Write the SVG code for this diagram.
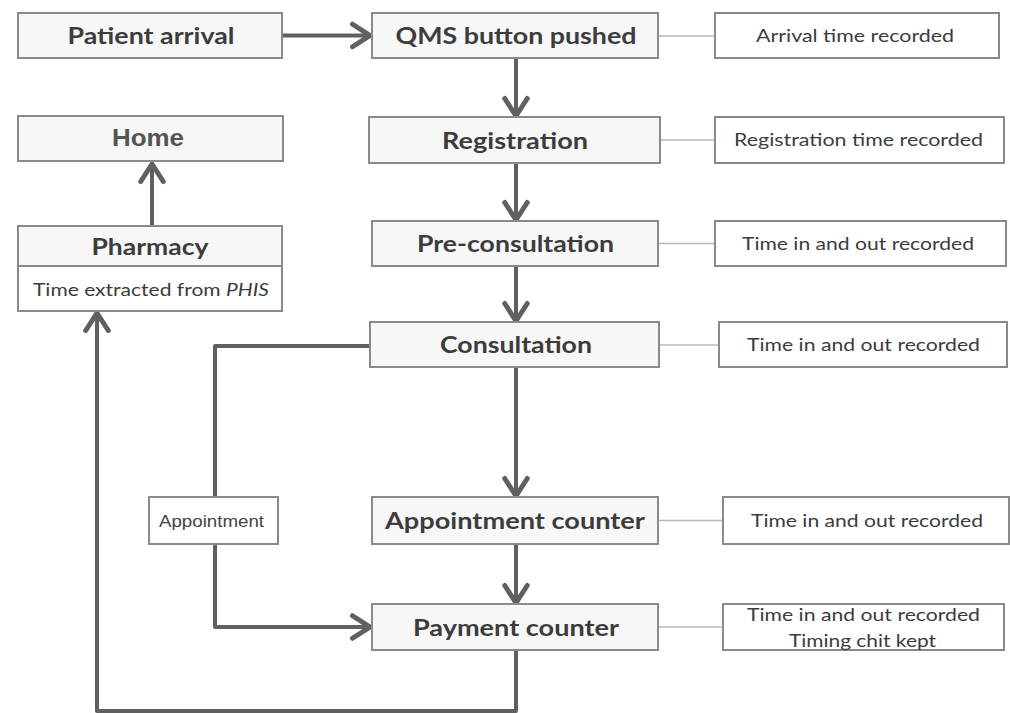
<svg xmlns="http://www.w3.org/2000/svg" width="1010" height="713" viewBox="0 0 1010 713">
<defs>
<marker id="arr" markerUnits="userSpaceOnUse" markerWidth="30" markerHeight="30" refX="0" refY="0" viewBox="-18 -12 22 24" orient="auto">
<path d="M-14,-9 L0,0 L-14,9" fill="none" stroke="#606060" stroke-width="4" stroke-linecap="round" stroke-linejoin="miter"/>
</marker>
<style>
.main{fill:#f7f7f7;stroke:#8a8a8a;stroke-width:2}
.side{fill:#ffffff;stroke:#8a8a8a;stroke-width:2}
.mt{font-family:Lato,"Liberation Sans",sans-serif;font-weight:bold;font-size:23px;fill:#3c3c3c;text-anchor:middle}
.st{font-family:Lato,"Liberation Sans",sans-serif;font-size:17px;fill:#3c3c3c;text-anchor:middle}
.flow{fill:none;stroke:#606060;stroke-width:4;stroke-linejoin:round}
.thin{fill:none;stroke:#b8b8b8;stroke-width:1.5}
</style>
</defs>
<rect width="1010" height="713" fill="#ffffff"/>
<g id="connectors">
<path class="flow" d="M282,35.5 L370,35.5" marker-end="url(#arr)"/>
<path class="flow" d="M516,58 L516,116" marker-end="url(#arr)"/>
<path class="flow" d="M516,163 L516,220" marker-end="url(#arr)"/>
<path class="flow" d="M516,266 L516,321" marker-end="url(#arr)"/>
<path class="flow" d="M516,367 L516,496" marker-end="url(#arr)"/>
<path class="flow" d="M516,544 L516,603" marker-end="url(#arr)"/>
<path class="flow" d="M370,346 L215,346 L215,627 L370,627" marker-end="url(#arr)"/>
<path class="flow" d="M516,650 L516,711 L97,711 L97,313" marker-end="url(#arr)"/>
<path class="flow" d="M152,226 L152,164" marker-end="url(#arr)"/>
<path class="thin" d="M658,36 L715,36"/>
<path class="thin" d="M660,140 L715,140"/>
<path class="thin" d="M658,243.5 L715,243.5"/>
<path class="thin" d="M659,345 L719,345"/>
<path class="thin" d="M658,520.5 L723,520.5"/>
<path class="thin" d="M658,627 L723,627"/>
</g>
<g id="patient-arrival">
<rect class="main" x="18" y="13" width="264" height="45"/>
<text class="mt" x="151" y="44" textLength="167" lengthAdjust="spacingAndGlyphs">Patient arrival</text>
</g>
<g id="qms">
<rect class="main" x="372" y="13" width="286" height="45"/>
<text class="mt" x="516" y="44" textLength="241" lengthAdjust="spacingAndGlyphs">QMS button pushed</text>
</g>
<g id="arrival-time">
<rect class="side" x="715" y="13" width="284" height="45"/>
<text class="st" x="855" y="42" textLength="198" lengthAdjust="spacingAndGlyphs">Arrival time recorded</text>
</g>
<g id="home">
<rect class="main" x="18" y="116" width="265" height="45"/>
<text x="148" y="146" text-anchor="middle" font-family="Liberation Sans, Arial, sans-serif" font-weight="bold" font-size="24" fill="#555555" textLength="72" lengthAdjust="spacingAndGlyphs">Home</text>
</g>
<g id="registration">
<rect class="main" x="369" y="117" width="291" height="46"/>
<text class="mt" x="515" y="149" textLength="146" lengthAdjust="spacingAndGlyphs">Registration</text>
</g>
<g id="registration-time">
<rect class="side" x="715" y="117" width="289" height="46"/>
<text class="st" x="858.5" y="146" textLength="249" lengthAdjust="spacingAndGlyphs">Registration time recorded</text>
</g>
<g id="pharmacy">
<rect class="main" x="18" y="226" width="264" height="40"/>
<rect class="side" x="18" y="266" width="264" height="45"/>
<text class="mt" x="150" y="255" textLength="117" lengthAdjust="spacingAndGlyphs">Pharmacy</text>
<text class="st" x="151" y="296" textLength="236" lengthAdjust="spacingAndGlyphs">Time extracted from <tspan font-style="italic">PHIS</tspan></text>
</g>
<g id="pre-consultation">
<rect class="main" x="372" y="221" width="286" height="45"/>
<text class="mt" x="515.5" y="252" textLength="197" lengthAdjust="spacingAndGlyphs">Pre-consultation</text>
</g>
<g id="pre-consultation-time">
<rect class="side" x="715" y="221" width="291" height="45"/>
<text class="st" x="858" y="250" textLength="232" lengthAdjust="spacingAndGlyphs">Time in and out recorded</text>
</g>
<g id="consultation">
<rect class="main" x="370" y="322" width="289" height="45"/>
<text class="mt" x="516" y="353" textLength="152" lengthAdjust="spacingAndGlyphs">Consultation</text>
</g>
<g id="consultation-time">
<rect class="side" x="719" y="322" width="288" height="45"/>
<text class="st" x="863.5" y="351" textLength="233" lengthAdjust="spacingAndGlyphs">Time in and out recorded</text>
</g>
<g id="appointment-label">
<rect class="side" x="149" y="497" width="129" height="47"/>
<text x="211.5" y="527" text-anchor="middle" font-family="Liberation Sans, Arial, sans-serif" font-size="16" fill="#444444" textLength="105" lengthAdjust="spacingAndGlyphs">Appointment</text>
</g>
<g id="appointment-counter">
<rect class="main" x="372" y="497" width="286" height="47"/>
<text class="mt" x="515" y="529" textLength="260" lengthAdjust="spacingAndGlyphs">Appointment counter</text>
</g>
<g id="appointment-time">
<rect class="side" x="723" y="497" width="286" height="47"/>
<text class="st" x="867" y="527" textLength="232" lengthAdjust="spacingAndGlyphs">Time in and out recorded</text>
</g>
<g id="payment-counter">
<rect class="main" x="372" y="604" width="286" height="46"/>
<text class="mt" x="516" y="636" textLength="206" lengthAdjust="spacingAndGlyphs">Payment counter</text>
</g>
<g id="payment-time">
<rect class="side" x="723" y="604" width="281" height="46"/>
<text class="st" x="863.5" y="621" textLength="233" lengthAdjust="spacingAndGlyphs">Time in and out recorded</text>
<text class="st" x="862.5" y="647" textLength="147" lengthAdjust="spacingAndGlyphs">Timing chit kept</text>
</g>
</svg>
